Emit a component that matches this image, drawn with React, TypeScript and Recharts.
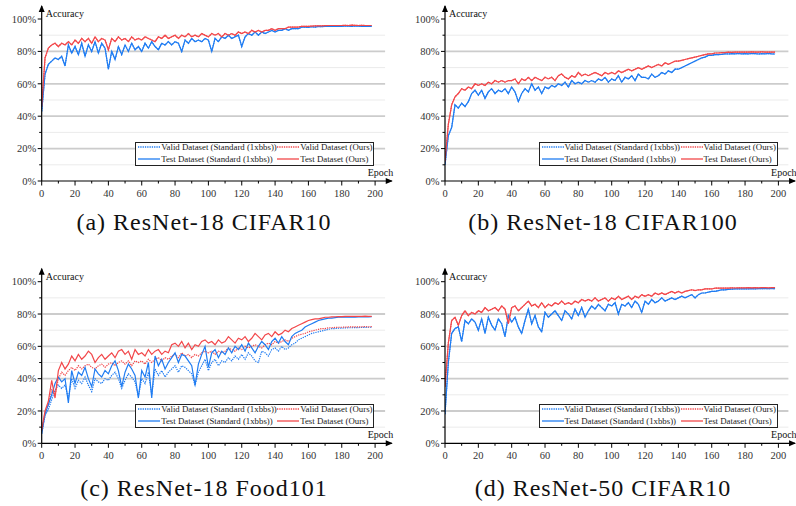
import React from 'react';
import { LineChart, Line, XAxis, YAxis, ReferenceLine } from 'recharts';

const SERIF = "'Liberation Serif', 'Times New Roman', serif";
const BLUE = '#1f7cf2';
const RED = '#f2474a';

// epochs sampled every 2
const EPOCHS = [
  0, 2, 4, 6, 8, 10, 12, 14, 16, 18,
  20, 22, 24, 26, 28, 30, 32, 34, 36, 38,
  40, 42, 44, 46, 48, 50, 52, 54, 56, 58,
  60, 62, 64, 66, 68, 70, 72, 74, 76, 78,
  80, 82, 84, 86, 88, 90, 92, 94, 96, 98,
  100, 102, 104, 106, 108, 110, 112, 114, 116, 118,
  120, 122, 124, 126, 128, 130, 132, 134, 136, 138,
  140, 142, 144, 146, 148, 150, 152, 154, 156, 158,
  160, 162, 164, 166, 168, 170, 172, 174, 176, 178,
  180, 182, 184, 186, 188, 190, 192, 194, 196, 198,
];

const X_TICKS = [0, 10, 20, 30, 40, 50, 60, 70, 80, 90, 100, 110, 120, 130, 140, 150, 160, 170, 180, 190, 200];
const Y_TICKS = [0, 10, 20, 30, 40, 50, 60, 70, 80, 90, 100];
const MAJOR_GRID = [20, 40, 60, 80];
const MINOR_GRID = [10, 30, 50, 70, 90];

// (a) ResNet-18 CIFAR10
const A_STD = [
  43, 66, 72, 74, 76, 75, 77, 71, 84, 79,
  83, 78, 85, 77, 84, 80, 86, 79, 85, 82,
  69, 80, 75, 83, 78, 84, 80, 85, 81, 83,
  80, 85, 82, 86, 83, 81, 85, 84, 86, 84,
  86, 85, 80, 87, 85, 88, 86, 87, 86, 88,
  87, 80, 88, 86, 89, 88, 90, 88, 89, 90,
  83, 89, 91, 90, 92, 90, 92, 91, 92, 93,
  92, 93, 93, 94, 93, 94, 94, 94, 95, 95,
  94.8, 95.2, 95, 95.4, 95.3, 95.5, 95.4, 95.6, 95.5, 95.6,
  95.5, 95.7, 95.6, 95.5, 95.7, 95.6, 95.5, 95.6, 95.5, 95.4,
];
const A_OURS = [
  46, 76, 82, 84, 85, 83, 85, 84, 86, 84,
  87, 85, 88, 86, 88, 85, 89, 86, 88, 87,
  81, 88, 86, 89, 87, 88, 86, 89, 87, 88,
  87, 89, 88, 87, 86, 89, 88, 90, 88, 89,
  90, 88, 90, 89, 91, 89, 90, 89, 91, 90,
  89, 91, 90, 91, 89, 91, 90, 91, 90, 92,
  91, 92, 91, 93, 92, 93, 92, 93, 93, 94,
  93, 94, 94, 94, 95, 95, 95, 95, 95.5, 95.5,
  95.5, 95.6, 95.7, 95.8, 95.8, 95.9, 96, 96, 96, 96,
  96, 96.1, 96, 96.2, 96.1, 96, 96.1, 96, 96, 96,
];

// (b) ResNet-18 CIFAR100
const B_STD = [
  10, 28, 33, 47, 45, 48, 46, 49, 54, 56,
  53, 56, 51, 55, 57, 54, 56, 55, 57, 54,
  58, 55, 49, 54, 57, 55, 60, 56, 58, 54,
  58, 57, 59, 58, 60, 59, 61, 58, 62, 60,
  61, 60, 62, 61, 62, 61, 63, 62, 64, 61,
  63, 62, 65, 61, 64, 63, 65, 62, 66, 64,
  64, 63, 66, 64, 65, 67, 66, 68, 67, 69,
  69, 70, 71, 72, 73, 74, 75, 76, 76.5, 77.5,
  77.5, 78, 78, 78.2, 78.5, 78.4, 78.6, 78.5, 78.7, 78.5,
  78.6, 78.5, 78.7, 78.6, 78.4, 78.6, 78.5, 78.7, 78.5, 78.4,
];
const B_OURS = [
  12, 35, 47, 52, 54, 57, 56, 58, 57, 60,
  59, 60, 59, 61, 60, 62, 61, 62, 61, 62,
  62, 63, 60, 63, 62, 64, 62, 64, 63, 62,
  64, 63, 64, 62, 65, 66, 64, 63, 65, 64,
  67, 65, 66, 65, 66, 67, 66, 65, 67, 66,
  67, 66, 68, 67, 68, 69, 68, 69, 70, 69,
  70, 71, 70, 71, 72, 71, 73, 72, 73, 74,
  74, 74.5, 75, 75.5, 76, 76.5, 77, 77.5, 78, 78.5,
  78.5, 79, 79, 79.2, 79.3, 79.5, 79.4, 79.6, 79.5, 79.6,
  79.6, 79.5, 79.7, 79.6, 79.5, 79.7, 79.6, 79.5, 79.6, 79.5,
];

// (c) ResNet-18 Food101
const C_VALID_STD = [
  6, 17, 21, 27, 33, 36, 34, 36, 28, 40,
  34, 39, 37, 41, 36, 32, 40, 38, 37, 40,
  39, 42, 44, 40, 34, 39, 43, 41, 38, 29,
  40, 37, 44, 30, 46, 42, 45, 41, 44, 46,
  48, 44, 48, 47, 45, 43, 36, 44, 48, 52,
  45, 50, 52, 48, 51, 50, 53, 51, 54, 52,
  55, 52, 56, 54, 51, 50, 57, 56, 54, 58,
  59, 57, 60, 58, 59, 61, 62, 64, 65, 66,
  67, 68, 68.5, 69, 69.5, 70, 70.5, 71, 71, 71.2,
  71.3, 71.4, 71.5, 71.5, 71.6, 71.6, 71.7, 71.7, 71.8, 71.8,
];
const C_VALID_OURS = [
  8, 19, 24, 33, 30, 40, 44, 42, 45, 47,
  45, 48, 46, 48, 49, 47, 46, 48, 49, 47,
  49, 50, 48, 50, 51, 49, 51, 48, 51, 50,
  51, 49, 52, 50, 52, 53, 51, 53, 52, 54,
  55, 53, 56, 54, 55, 53, 55, 54, 56, 57,
  56, 57, 55, 57, 56, 57, 59, 58, 57, 59,
  58, 60, 59, 60, 61, 60, 59, 61, 62, 61,
  63, 62, 63, 64, 63, 65, 66, 67, 67.5, 68,
  69, 69.5, 70, 70.5, 71, 71, 71.5, 71.5, 71.7, 71.8,
  71.8, 71.9, 72, 72, 72.1, 72, 72.1, 72.2, 72.1, 72.2,
];
const C_TEST_STD = [
  6, 18, 24, 30, 37, 41, 38, 40, 25, 45,
  37, 44, 42, 47, 40, 35, 46, 43, 41, 45,
  43, 48, 51, 45, 35, 44, 49, 46, 42, 28,
  45, 41, 50, 28, 54, 48, 52, 46, 50, 53,
  56, 50, 55, 54, 51, 48, 36, 49, 55, 60,
  47, 56, 58, 53, 57, 55, 59, 56, 60, 58,
  61, 57, 62, 59, 56, 60, 63, 61, 58, 63,
  65, 62, 66, 63, 61, 66, 68, 69, 70, 72,
  73, 74, 75, 76, 76.5, 77, 77.5, 77.5, 77.8, 78,
  78, 78, 78.1, 78.2, 78.1, 78.2, 78.2, 78.3, 78.2, 78.3,
];
const C_TEST_OURS = [
  8, 20, 26, 39, 28, 45, 50, 46, 49, 54,
  51, 55, 52, 54, 57, 55, 50, 53, 55, 52,
  54, 56, 53, 57, 58, 55, 57, 52, 58, 55,
  56, 54, 58, 55, 57, 58, 55, 57, 56, 61,
  62, 60, 63, 59, 62, 58, 61, 60, 63, 64,
  62, 63, 61, 64, 62, 63, 66, 64, 62, 65,
  64, 66, 63, 65, 68, 66, 64, 67, 68, 66,
  69, 67, 68, 70, 69, 71, 72, 73, 74, 75,
  76, 76.5, 77, 77, 77.5, 78, 78, 78.2, 78.3, 78.4,
  78.4, 78.5, 78.5, 78.6, 78.5, 78.6, 78.6, 78.7, 78.6, 78.6,
];

// (d) ResNet-50 CIFAR10
const D_STD = [
  18, 50, 68, 71, 72, 63, 76, 74, 77, 75,
  70, 77, 68, 78, 73, 70, 77, 74, 66, 79,
  75, 78, 72, 68, 76, 83, 74, 79, 72, 69,
  81, 78, 80, 82, 79, 76, 82, 80, 77, 83,
  79, 84, 78, 82, 85, 83, 86, 84, 82, 86,
  85, 87, 80, 86, 85, 87, 84, 88, 86, 81,
  88, 86, 89, 87, 88, 90, 88, 89, 90, 89,
  90, 91, 90, 91, 92, 90, 92, 93, 93, 93.5,
  94, 94, 94.5, 95, 95, 95.3, 95.4, 95.5, 95.5, 95.6,
  95.6, 95.6, 95.7, 95.6, 95.7, 95.7, 95.8, 95.7, 95.8, 95.7,
];
const D_OURS = [
  35, 62, 76, 78, 73, 79, 82, 79, 81, 80,
  82, 81, 84, 82, 83, 84, 82, 85, 83, 74,
  84, 85, 82, 84, 86, 88, 85, 86, 84, 87,
  84, 86, 85, 87, 86, 88, 86, 87, 86, 88,
  87, 89, 88, 89, 88, 90, 88, 89, 90, 88,
  90, 89, 91, 89, 90, 91, 89, 91, 90, 92,
  91, 92, 91, 93, 92, 93, 92, 93, 94, 93,
  94, 93, 94, 94.5, 95, 94.5, 95, 95, 95.5, 95.5,
  95.5, 96, 96, 96, 96.1, 96, 96.2, 96.1, 96.2, 96.2,
  96.2, 96.3, 96.2, 96.3, 96.2, 96.3, 96.3, 96.2, 96.3, 96.3,
];

const SERIES = [
  { key: 'validStd', name: 'Valid Dataset (Standard (1xbbs))', color: BLUE, dash: true },
  { key: 'validOurs', name: 'Valid Dataset (Ours)', color: RED, dash: true },
  { key: 'testStd', name: 'Test Dataset (Standard (1xbbs))', color: BLUE, dash: false },
  { key: 'testOurs', name: 'Test Dataset (Ours)', color: RED, dash: false },
];

const buildRows = (validStd: number[], validOurs: number[], testStd: number[], testOurs: number[]) =>
  EPOCHS.map((epoch, i) => ({
    epoch,
    validStd: validStd[i],
    validOurs: validOurs[i],
    testStd: testStd[i],
    testOurs: testOurs[i],
  }));

const PANELS = [
  { id: 'a', caption: '(a) ResNet-18 CIFAR10', left: 0, top: 0, width: 400, x0: 41.7, y0: 181, y100: 19, capY: 222,
    rows: buildRows(A_STD, A_OURS, A_STD, A_OURS) },
  { id: 'b', caption: '(b) ResNet-18 CIFAR100', left: 400, top: 0, width: 396, x0: 445, y0: 181, y100: 19, capY: 222,
    rows: buildRows(B_STD, B_OURS, B_STD, B_OURS) },
  { id: 'c', caption: '(c) ResNet-18 Food101', left: 0, top: 260, width: 400, x0: 41.7, y0: 443.3, y100: 281.7, capY: 488,
    rows: buildRows(C_VALID_STD, C_VALID_OURS, C_TEST_STD, C_TEST_OURS) },
  { id: 'd', caption: '(d) ResNet-50 CIFAR10', left: 400, top: 260, width: 396, x0: 445, y0: 443.3, y100: 281.7, capY: 488,
    rows: buildRows(D_STD, D_OURS, D_STD, D_OURS) },
];

const YTick = (props: any) => {
  const { x, y, payload } = props;
  const v = payload.value;
  const major = v % 20 === 0;
  return (
    <g>
      <line x1={x} x2={x - (major ? 4 : 2.5)} y1={y} y2={y} stroke="#000" strokeWidth={1} />
      {major && (
        <text x={x - 5.5} y={y} dy={3.7} textAnchor="end" fontSize={10.5} fill="#333" fontFamily={SERIF}>
          {v}%
        </text>
      )}
    </g>
  );
};

const XTick = (props: any) => {
  const { x, y, payload } = props;
  const v = payload.value;
  const major = v % 20 === 0;
  return (
    <g>
      <line x1={x} x2={x} y1={y} y2={y + (major ? 4.5 : 2.5)} stroke="#000" strokeWidth={1} />
      {major && (
        <text x={x} y={y + 15.5} textAnchor="middle" fontSize={10.5} fill="#333" fontFamily={SERIF}>
          {v}
        </text>
      )}
    </g>
  );
};

const Legend = ({ x, y }: { x: number; y: number }) => (
  <div
    style={{
      position: 'absolute', left: x, top: y, width: 239, height: 23.5, boxSizing: 'border-box',
      border: '1.3px solid #222', background: '#fff', fontFamily: SERIF, fontSize: 8.8, color: '#222',
    }}
  >
    {SERIES.map((s, i) => {
      const col = i % 2;
      const row = Math.floor(i / 2);
      const lx = col === 0 ? 2 : 141;
      const cy = row === 0 ? 4 : 16;
      return (
        <React.Fragment key={s.key}>
          <svg style={{ position: 'absolute', left: lx, top: cy - 2 }} width={22} height={4}>
            <line x1={0} x2={22} y1={2} y2={2} stroke={s.color} strokeWidth={1.3} strokeDasharray={s.dash ? '1.3 1' : undefined} />
          </svg>
          <span style={{ position: 'absolute', left: lx + 23, top: cy - 5.5, lineHeight: '11px', whiteSpace: 'nowrap' }}>
            {s.name}
          </span>
        </React.Fragment>
      );
    })}
  </div>
);

const Panel = ({ p }: { p: typeof PANELS[number] }) => {
  const height = 206;
  const xUnit = 1.667;
  const yUnit = (p.y0 - p.y100) / 100;
  const plotTop = p.y0 - 108 * yUnit;
  const plotRight = p.x0 + 210 * xUnit;
  const ax = p.x0 - p.left;
  const ay = p.y0 - p.top;
  const at = plotTop - p.top;
  const ar = plotRight - p.left;
  return (
    <div style={{ position: 'absolute', left: p.left, top: p.top, width: p.width, height }}>
      <LineChart
        width={p.width}
        height={height}
        data={p.rows}
        margin={{ top: at, right: p.width - ar, left: 0, bottom: 0 }}
        style={{ fontFamily: SERIF }}
      >
        <XAxis
          type="number"
          dataKey="epoch"
          domain={[0, 210]}
          ticks={X_TICKS}
          interval={0}
          height={height - ay}
          tickSize={0}
          tickMargin={0}
          tickLine={false}
          tick={<XTick />}
          axisLine={{ stroke: '#000', strokeWidth: 1.2 }}
          allowDataOverflow
        />
        <YAxis
          type="number"
          domain={[0, 108]}
          ticks={Y_TICKS}
          interval={0}
          width={ax}
          tickSize={0}
          tickMargin={0}
          tickLine={false}
          tick={<YTick />}
          axisLine={{ stroke: '#000', strokeWidth: 1.2 }}
          allowDataOverflow
        />
        {MINOR_GRID.map((g) => (
          <ReferenceLine key={`mi${g}`} segment={[{ x: 0.5, y: g }, { x: 206, y: g }]} stroke="#ebebeb" strokeWidth={1} />
        ))}
        {MAJOR_GRID.map((g) => (
          <ReferenceLine key={`ma${g}`} segment={[{ x: 0.5, y: g }, { x: 206, y: g }]} stroke="#cccccc" strokeWidth={1.8} />
        ))}
        {SERIES.map((s) => (
          <Line
            key={s.key}
            type="linear"
            dataKey={s.key}
            stroke={s.color}
            strokeWidth={1.2}
            strokeDasharray={s.dash ? '1.3 1' : undefined}
            dot={false}
            activeDot={false}
            isAnimationActive={false}
          />
        ))}
      </LineChart>
      <svg
        style={{ position: 'absolute', left: 0, top: 0, pointerEvents: 'none', overflow: 'visible' }}
        width={p.width}
        height={height}
      >
        <polygon points={`${ax},${at - 1} ${ax - 3},${at + 6} ${ax + 3},${at + 6}`} fill="#000" />
        <polygon points={`${ar + 1},${ay} ${ar - 6},${ay - 3} ${ar - 6},${ay + 3}`} fill="#000" />
        <text x={ax + 4} y={at + 11} fontSize={10} fontFamily={SERIF} fill="#111">Accuracy</text>
        <text x={ar - 24} y={ay - 5} fontSize={10} fontFamily={SERIF} fill="#111">Epoch</text>
      </svg>
      <Legend x={ax + 93.5} y={ay - 39} />
    </div>
  );
};

export default function App() {
  return (
    <div style={{ position: 'absolute', left: 0, top: 0, width: 796, height: 506, background: '#fff', overflow: 'hidden' }}>
      {PANELS.map((p) => (
        <React.Fragment key={p.id}>
          <Panel p={p} />
          <div
            style={{
              position: 'absolute', left: p.left, top: p.capY - 14, width: p.width + (p.left === 0 ? 8 : 10),
              textAlign: 'center', fontFamily: SERIF, fontSize: 24, letterSpacing: 1, lineHeight: '28px', color: '#111',
            }}
          >
            {p.caption}
          </div>
        </React.Fragment>
      ))}
    </div>
  );
}
